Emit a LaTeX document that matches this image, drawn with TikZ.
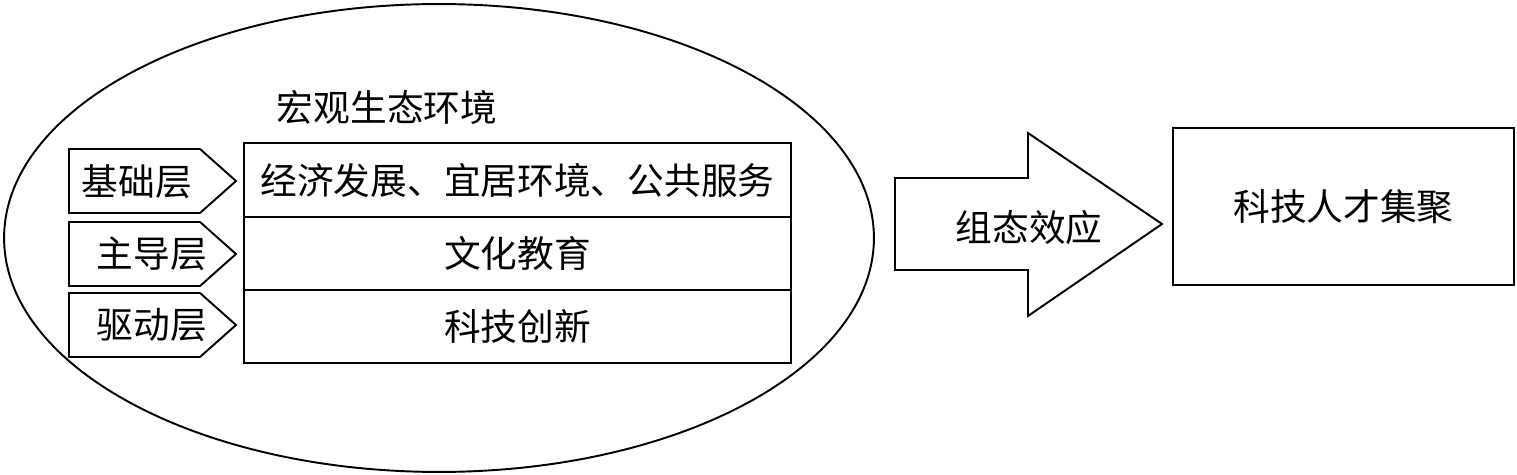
\documentclass[tikz,border=0pt]{standalone}
\usepackage{fontspec}
\newfontfamily\cjk{Noto Sans CJK SC}
\usetikzlibrary{positioning}
\usetikzlibrary{shapes.geometric}

\begin{document}
\begin{tikzpicture}[x=0.02cm, y=-0.02cm, line width=1.1pt,
    txt/.style={font=\cjk\fontsize{20.9}{24}\selectfont, inner sep=0pt},
    cell/.style={draw, txt, outer sep=0pt, minimum width=10.94cm, minimum height=1.465cm}]
    \useasboundingbox (0,0) rectangle (1517,475);

    \node[draw, ellipse, inner sep=0pt, minimum width=17.4cm, minimum height=9.36cm] (env) at (439,238) {};
    \node[txt] (envtitle) at (387,107) {宏观生态环境};

    \node[cell] (econ) at (517.5,180) {经济发展、宜居环境、公共服务};
    \node[cell, below=0pt of econ] (culture) {文化教育};
    \node[cell, below=0pt of culture] (tech) {科技创新};

    \draw (69,149) -- (200,149) -- (236,181) -- (200,213) -- (69,213) -- cycle;
    \draw (69,222) -- (200,222) -- (236,254) -- (200,286) -- (69,286) -- cycle;
    \draw (69,293) -- (200,293) -- (236,325) -- (200,357) -- (69,357) -- cycle;
    \node[txt] (base) at (137,182) {基础层};
    \node[txt] (lead) at (152,254) {主导层};
    \node[txt] (drive) at (152,325) {驱动层};

    \draw (895,178) -- (1028,178) -- (1028,133) -- (1162,224) -- (1028,316) -- (1028,270) -- (895,270) -- cycle;
    \node[txt] (effect) at (1029,228) {组态效应};

    \node[draw, txt, minimum width=6.82cm, minimum height=3.14cm] (talent) at (1343.5,206.5) {科技人才集聚};
\end{tikzpicture}
\end{document}
